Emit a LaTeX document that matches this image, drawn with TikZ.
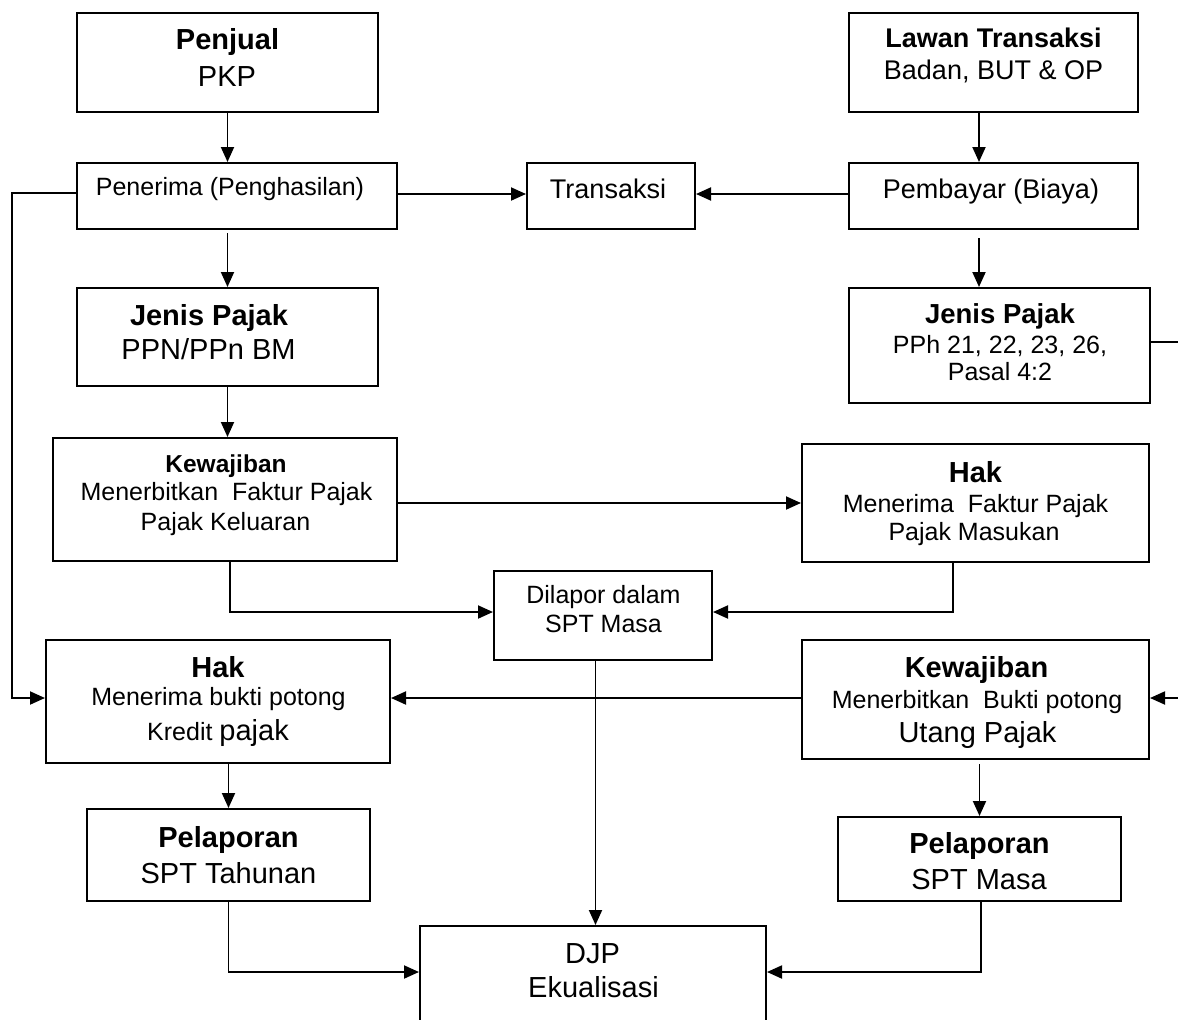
\documentclass[tikz,border=0pt]{standalone}
\usepackage{fontspec}
\setmainfont{Liberation Sans}
\usetikzlibrary{arrows.meta,calc}
\newcommand\fsA{\fontsize{29}{33}\selectfont}
\newcommand\fsB{\fontsize{27}{31}\selectfont}
\newcommand\fsC{\fontsize{25}{29}\selectfont}
\tikzset{
  box/.style={draw, line width=2pt, rectangle, inner sep=0pt},
  tl/.style={anchor=base, inner sep=0pt},
  arr/.style={line width=1.9pt, -{Triangle[length=15pt,width=13pt]}}
}
\begin{document}
\begin{tikzpicture}[x=1pt,y=-1pt]
\useasboundingbox (0,0) rectangle (1178,1020);
\fill[white] (0,0) rectangle (1178,1020);
\clip (0,0) rectangle (1178,1020);

% boxes
\node[box, minimum width=301, minimum height=99]  (penjual)  at (227.5,62.5) {};
\node[box, minimum width=320, minimum height=66]  (penerima) at (237,196) {};
\node[box, minimum width=168, minimum height=66]  (transaksi) at (611,196) {};
\node[box, minimum width=289, minimum height=99]  (lawan)    at (993.5,62.5) {};
\node[box, minimum width=289, minimum height=66]  (pembayar) at (993.5,196) {};
\node[box, minimum width=301, minimum height=98]  (jenisL)   at (227.5,337) {};
\node[box, minimum width=301, minimum height=115] (jenisR)   at (999.5,345.5) {};
\node[box, minimum width=344, minimum height=123] (kewL)     at (225,499.5) {};
\node[box, minimum width=347, minimum height=118] (hakR)     at (975.5,503) {};
\node[box, minimum width=218, minimum height=89]  (dilapor)  at (603,615.5) {};
\node[box, minimum width=344, minimum height=123] (hakL)     at (218,701.5) {};
\node[box, minimum width=347, minimum height=119] (kewR)     at (975.5,699.5) {};
\node[box, minimum width=283, minimum height=92]  (pelL)     at (228.5,855) {};
\node[box, minimum width=283, minimum height=84]  (pelR)     at (979.5,859) {};
\node[box, minimum width=346, minimum height=115] (djp)      at (593,983.5) {};

% texts
\node[tl, font=\fsA\bfseries] (t1a) at (227.5,49) {Penjual};
\node[tl, font=\fsA] (t1b) at (227,86) {PKP};
\node[tl, font=\fsC] (t2a) at (230,195) {Penerima (Penghasilan)};
\node[tl, font=\fsB] (t3a) at (608,198) {Transaksi};
\node[tl, font=\fsB\bfseries] (t4a) at (993.5,47) {Lawan Transaksi};
\node[tl, font=\fsB] (t4b) at (993.5,79) {Badan, BUT \& OP};
\node[tl, font=\fsB] (t5a) at (991,198) {Pembayar (Biaya)};
\node[tl, font=\fsA\bfseries] (t6a) at (209,325) {Jenis Pajak};
\node[tl, font=\fsA] (t6b) at (208.5,359) {PPN/PPn BM};
\node[tl, font=\fontsize{27.5}{31}\selectfont\bfseries] (t7a) at (1000,323) {Jenis Pajak};
\node[tl, font=\fsC] (t7b) at (1000,353) {PPh 21, 22, 23, 26,};
\node[tl, font=\fsC] (t7c) at (1000,380) {Pasal 4:2};
\node[tl, font=\fontsize{24.5}{28}\selectfont\bfseries] (t8a) at (226,472) {Kewajiban};
\node[tl, font=\fsC] (t8b) at (226.5,500) {Menerbitkan~ Faktur Pajak};
\node[tl, font=\fsC] (t8c) at (225.5,530) {Pajak Keluaran};
\node[tl, font=\fsA\bfseries] (t9a) at (975.5,482) {Hak};
\node[tl, font=\fsC] (t9b) at (975.5,512) {Menerima~ Faktur Pajak};
\node[tl, font=\fsC] (t9c) at (974,540) {Pajak Masukan};
\node[tl, font=\fsC] (t10a) at (603.5,603) {Dilapor dalam};
\node[tl, font=\fsC] (t10b) at (603.5,632) {SPT Masa};
\node[tl, font=\fsA\bfseries] (t11a) at (218,677) {Hak};
\node[tl, font=\fsC] (t11b) at (218.5,705) {Menerima bukti potong};
\node[tl, font=\fsC] (t11c) at (218,740) {Kredit {\fsA pajak}};
\node[tl, font=\fsA\bfseries] (t12a) at (976.5,677) {Kewajiban};
\node[tl, font=\fsC] (t12b) at (977,708) {Menerbitkan~ Bukti potong};
\node[tl, font=\fsA] (t12c) at (977.5,742) {Utang Pajak};
\node[tl, font=\fsA\bfseries] (t13a) at (228.5,847) {Pelaporan};
\node[tl, font=\fsA] (t13b) at (228.5,883) {SPT Tahunan};
\node[tl, font=\fsA\bfseries] (t14a) at (979.5,853) {Pelaporan};
\node[tl, font=\fsA] (t14b) at (979,889) {SPT Masa};
\node[tl, font=\fsA] (t15a) at (592.5,963) {DJP};
\node[tl, font=\fsA] (t15b) at (593.5,997) {Ekualisasi};

% helper coordinates for outer routes
\coordinate (lx) at (12,0);
\coordinate (rx) at (1186,0);

% connectors
\draw[arr] (penjual.south) -- (penjual.south |- penerima.north);
\draw[arr] ($(jenisL.north |- penerima.south)+(0,3)$) -- (jenisL.north);
\draw[arr] (jenisL.south) -- (jenisL.south |- kewL.north);
\draw[arr] ($(penerima.east)+(0,-2)$) -- ($(transaksi.west)+(0,-2)$);
\draw[arr] ($(pembayar.west)+(0,-2)$) -- ($(transaksi.east)+(0,-2)$);
\draw[arr] ($(lawan.south)+(-14.5,0)$) -- ($(lawan.south |- pembayar.north)+(-14.5,0)$);
\draw[arr] ($(pembayar.south)+(-14.5,8)$) -- ($(pembayar.south |- jenisR.north)+(-14.5,0)$);
\draw[arr] ($(penerima.west)+(0,-3)$) -- ($(penerima.west -| lx)+(0,-3)$) |- ($(hakL.west)+(0,-3.5)$);
\draw[arr] ($(jenisR.east)+(0,-3.5)$) -- ($(jenisR.east -| rx)+(0,-3.5)$) |- ($(kewR.west -| kewR.east)+(0,-1.5)$);
\draw[arr] (kewL.east |- hakR.west) -- (hakR.west);
\draw[arr] ($(kewL.south)+(5,0)$) |- ($(dilapor.west)+(0,-3.5)$);
\draw[arr] ($(hakR.south)+(-22.5,0)$) |- ($(dilapor.east)+(0,-3.5)$);
\draw[arr] ($(dilapor.south)+(-7.5,0)$) -- ($(dilapor.south |- djp.north)+(-7.5,0)$);
\draw[arr] ($(kewR.west)+(0,-1.5)$) -- ($(kewR.west -| hakL.east)+(0,-1.5)$);
\draw[arr] (pelL.north |- hakL.south) -- (pelL.north);
\draw[arr] ($(pelR.north |- kewR.south)+(0,4)$) -- (pelR.north);
\draw[arr] (pelL.south) |- ($(djp.west)+(0,-11.5)$);
\draw[arr] ($(pelR.south)+(1.5,0)$) |- ($(djp.east)+(0,-11.5)$);
\end{tikzpicture}
\end{document}
